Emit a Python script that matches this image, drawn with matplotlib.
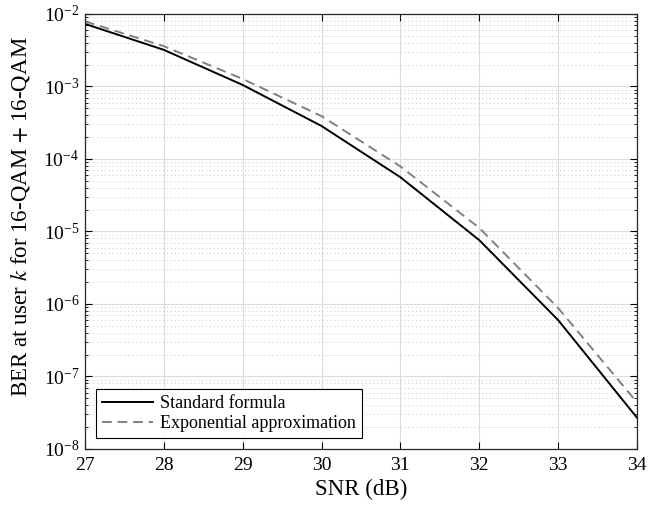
import matplotlib
matplotlib.use("Agg")
import matplotlib.pyplot as plt
from matplotlib.ticker import LogLocator, NullFormatter, MultipleLocator

plt.rcParams['font.family'] = ['Liberation Serif', 'DejaVu Serif']
plt.rcParams['mathtext.fontset'] = 'stix'

# data
snr_db = [27, 28, 29, 30, 31, 32, 33, 34]
ber_standard = [7.3e-3, 3.2e-3, 1.05e-3, 2.85e-4, 5.6e-5, 7.6e-6, 6.0e-7, 2.7e-8]
ber_exp = [7.9e-3, 3.6e-3, 1.27e-3, 3.9e-4, 7.9e-5, 1.12e-5, 8.8e-7, 4.4e-8]
labels = ["Standard formula", "Exponential approximation"]

fig = plt.figure(figsize=(6.48, 5.13), dpi=100)
ax = fig.add_axes([0.131, 0.1248, 0.852, 0.848])

ax.semilogy(snr_db, ber_standard, color="k", lw=1.4, label=labels[0])
ax.semilogy(snr_db, ber_exp, color="#808080", lw=1.4, ls=(0, (5, 3)), label=labels[1])

ax.set_xlim(27, 34)
ax.set_ylim(1e-8, 1e-2)
ax.xaxis.set_major_locator(MultipleLocator(1))
ax.yaxis.set_major_locator(LogLocator(base=10, numticks=20))
ax.yaxis.set_minor_locator(LogLocator(base=10, subs=range(2, 10), numticks=20))
ax.yaxis.set_minor_formatter(NullFormatter())

ax.grid(True, which="major", color="#dcdcdc", lw=0.8, ls="-")
ax.grid(True, which="minor", axis="y", color="#c8c8c8", lw=0.7, ls=(0, (1, 3)))
ax.set_axisbelow(True)

ax.tick_params(which="both", direction="in", top=True, right=True, labelsize=14)
ax.tick_params(which="major", length=5, width=0.8)
ax.tick_params(which="minor", length=2.5, width=0.6)
ax.tick_params(axis="x", pad=6)
ax.tick_params(axis="y", pad=4)
for s in ax.spines.values():
    s.set_linewidth(0.9)
    s.set_color("#262626")

ax.set_xlabel("SNR (dB)", fontsize=16.5, labelpad=3)
ax.set_ylabel("BER at user $k$ for 16-QAM $+$ 16-QAM", fontsize=16.5)
ax.yaxis.set_label_coords(-0.095, 0.535)

leg = ax.legend(loc="lower left", fontsize=13, fancybox=False, framealpha=1,
                edgecolor="k", handlelength=2.8, borderaxespad=0.6,
                labelspacing=0.15, borderpad=0.35, handletextpad=0.4)
leg.get_frame().set_linewidth(0.8)

fig.savefig("out.png", dpi=100)
